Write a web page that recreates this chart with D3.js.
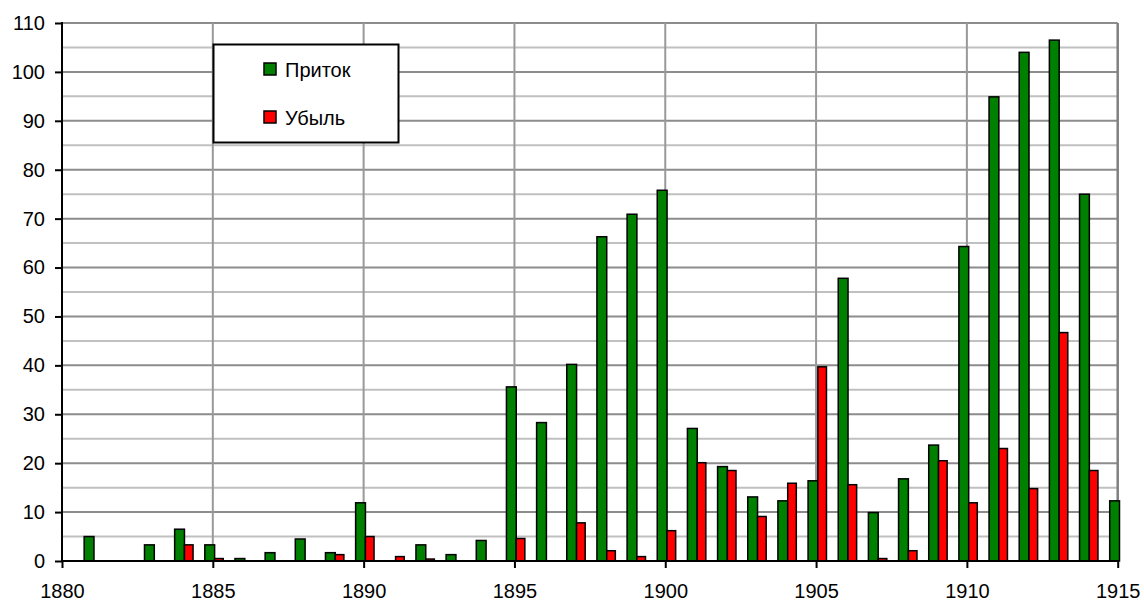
<!DOCTYPE html>
<html>
<head>
<meta charset="utf-8">
<script src="https://cdn.jsdelivr.net/npm/d3@7"></script>
<style>
  html, body { margin: 0; padding: 0; background: #fff; }
  svg { display: block; }
  text { font-family: "Liberation Sans", Arial, sans-serif; fill: #000; }
</style>
</head>
<body>
<svg id="chart" width="1144" height="601"></svg>
<script>
// ---- data ----
const years = [1880,1881,1882,1883,1884,1885,1886,1887,1888,1889,
               1890,1891,1892,1893,1894,1895,1896,1897,1898,1899,
               1900,1901,1902,1903,1904,1905,1906,1907,1908,1909,
               1910,1911,1912,1913,1914,1915];
const inflow = [0,5.0,0,3.3,6.5,3.3,0.5,1.7,4.5,1.7,
                11.9,0,3.3,1.3,4.2,35.6,28.3,40.2,66.3,70.9,
                75.8,27.1,19.3,13.1,12.3,16.4,57.8,9.9,16.8,23.7,
                64.3,94.9,104.0,106.5,75.0,12.3];
const outflow = [0,0,0,0,3.3,0.5,0,0,0,1.3,
                 5.0,0.9,0.4,0,0,4.6,0,7.8,2.1,0.9,
                 6.2,20.1,18.5,9.1,15.9,39.7,15.6,0.5,2.1,20.5,
                 11.9,23.0,14.8,46.7,18.5,0];
const seriesNames = ["Приток", "Убыль"];
const seriesColors = ["#008000", "#ff0000"];
const yTicks = [0,10,20,30,40,50,60,70,80,90,100,110];
const yMinor = [5,15,25,35,45,55,65,75,85,95,105];
const xTicks = [1880,1885,1890,1895,1900,1905,1910,1915];

// ---- layout ----
const svg = d3.select("#chart");
const L = 62, R = 1117.7, T = 23, B = 561;
const x = d3.scaleLinear().domain([1880, 1915]).range([L, R]);
const y = d3.scaleLinear().domain([0, 110]).range([B, T]);

// minor horizontal gridlines
svg.append("g").selectAll("line").data(yMinor).join("line")
  .attr("x1", L).attr("x2", R)
  .attr("y1", d => y(d)).attr("y2", d => y(d))
  .attr("stroke", "#c0c0c0").attr("stroke-width", 2);
// major horizontal gridlines
svg.append("g").selectAll("line").data(yTicks.filter(d => d > 0)).join("line")
  .attr("x1", L).attr("x2", R)
  .attr("y1", d => y(d)).attr("y2", d => y(d))
  .attr("stroke", "#8c8c8c").attr("stroke-width", 2);
// vertical gridlines
svg.append("g").selectAll("line").data(xTicks.filter(d => d > 1880)).join("line")
  .attr("x1", d => x(d)).attr("x2", d => x(d))
  .attr("y1", T).attr("y2", B)
  .attr("stroke", d => d === 1915 ? "#808080" : "#999999")
  .attr("stroke-width", d => d === 1915 ? 2.5 : 2);

// bars
const gW = 9.8, rW = 8.6;
const bars = svg.append("g");
bars.selectAll("rect.in").data(years.map((yr, i) => ({yr, v: inflow[i]})).filter(d => d.v > 0))
  .join("rect").attr("class", "in")
  .attr("x", d => x(d.yr) - 8).attr("width", gW)
  .attr("y", d => y(d.v)).attr("height", d => B - y(d.v))
  .attr("fill", seriesColors[0]).attr("stroke", "#000").attr("stroke-width", 1.5);
bars.selectAll("rect.out").data(years.map((yr, i) => ({yr, v: outflow[i]})).filter(d => d.v > 0))
  .join("rect").attr("class", "out")
  .attr("x", d => x(d.yr) + 1.8).attr("width", rW)
  .attr("y", d => y(d.v)).attr("height", d => B - y(d.v))
  .attr("fill", seriesColors[1]).attr("stroke", "#000").attr("stroke-width", 1.5);

// axes
const yAxis = svg.append("g").attr("transform", `translate(${L},0)`)
  .call(d3.axisLeft(y).tickValues(yTicks).tickSize(7).tickPadding(10).tickFormat(d3.format("d")));
const xAxis = svg.append("g").attr("transform", `translate(0,${B})`)
  .call(d3.axisBottom(x).tickValues(xTicks).tickSize(7).tickPadding(16).tickFormat(d3.format("d")));
[yAxis, xAxis].forEach(g => {
  g.select(".domain").remove();
  g.selectAll(".tick line").attr("stroke", "#000").attr("stroke-width", 2);
  g.selectAll("text").attr("font-size", 20).attr("font-family", "Liberation Sans, Arial, sans-serif").attr("fill", "#000");
});
svg.append("line").attr("x1", L).attr("x2", L).attr("y1", T - 1).attr("y2", B + 1)
  .attr("stroke", "#000").attr("stroke-width", 2);
svg.append("line").attr("x1", L - 1).attr("x2", R).attr("y1", B).attr("y2", B)
  .attr("stroke", "#000").attr("stroke-width", 2);

// legend
const lg = svg.append("g");
lg.append("rect").attr("x", 213.5).attr("y", 44.5).attr("width", 185).attr("height", 98)
  .attr("fill", "#fff").attr("stroke", "#000").attr("stroke-width", 2);
const ly = [69, 117];
seriesNames.forEach((name, i) => {
  lg.append("rect").attr("x", 264).attr("y", ly[i] - 6).attr("width", 12).attr("height", 12)
    .attr("fill", seriesColors[i]).attr("stroke", "#000").attr("stroke-width", 1.5);
  lg.append("text").attr("x", 285).attr("y", ly[i] + 7.5).attr("font-size", 20).text(name);
});
</script>
</body>
</html>
